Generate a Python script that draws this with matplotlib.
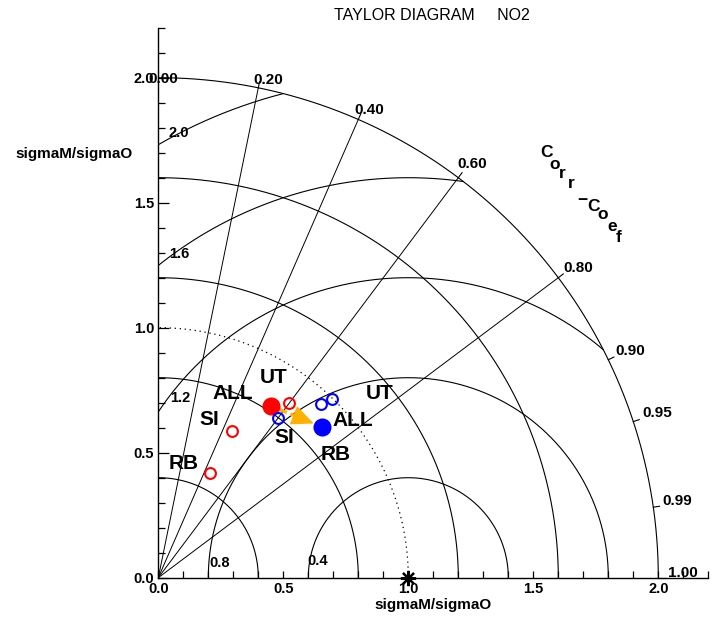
import numpy as np
import matplotlib.pyplot as plt

plt.rcParams['font.family'] = ['Liberation Sans', 'DejaVu Sans']

# normalised standard deviation and correlation for each sub-region
cases = ['ALL', 'UT', 'SI', 'RB']
ratio_red = [0.821, 0.874, 0.657, 0.466]
corr_red = [0.548, 0.599, 0.447, 0.444]
ratio_blue = [0.890, 0.997, 0.799, 0.952]
corr_blue = [0.735, 0.698, 0.598, 0.684]

corr_ticks = [0.0, 0.2, 0.4, 0.6, 0.8, 0.9, 0.95, 0.99, 1.0]
corr_rays = [0.2, 0.4, 0.6, 0.8]
std_levels = [0.4, 0.8, 1.2, 1.6, 2.0]
rms_levels = [0.4, 0.8, 1.2, 1.6, 2.0]

# where the case names sit relative to their marker (pixels)
red_offsets = [(-38, 13), (-16, 25), (-22, 11), (-26, 10)]
blue_offsets = [(31, 6), (47, 6), (7, -20), (15, -50)]
# correlation label offsets from the outer arc (pixels)
corr_offsets = [(-10, -5), (-5, 4), (-4, 5), (-1, 10), (5, 6), (7, 5), (9, 5), (9, 2), (10, 1)]
# centre of the rms labels
rms_label_xy = [(0.639, 0.067), (0.244, 0.059), (0.087, 0.719), (0.083, 1.295), (0.083, 1.779)]
# "Corr-Coef" glyphs and their baseline points (pixels from the figure's top-left)
cc_letters = ['C', 'o', 'r', 'r', '\u2212', 'C', 'o', 'e', 'f']
cc_points = [(546.7, 156.7), (554.3, 168.6), (562.7, 177.6), (571, 187.6), (582, 205.5),
             (594, 211), (602.7, 219.3), (611.7, 231), (619, 241.7)]

RMAX = 2.0
X0_PX, Y0_PX, PX_PER_UNIT = 158.3, 577.7, 250.0


def to_xy(ratio, cc):
    ratio = np.asarray(ratio, dtype=float)
    cc = np.asarray(cc, dtype=float)
    return ratio * cc, ratio * np.sqrt(1.0 - cc ** 2)


fig = plt.figure(figsize=(7.12, 6.2), dpi=100)
ax = fig.add_axes([X0_PX / 712, (620 - Y0_PX) / 620, 550 / 712, 550 / 620])
ax.set_xlim(0, 2.2)
ax.set_ylim(0, 2.2)
for s in ['top', 'right']:
    ax.spines[s].set_visible(False)
for s in ['left', 'bottom']:
    ax.spines[s].set_linewidth(1.0)

major = np.arange(0, 2.21, 0.5)
ax.set_xticks(major)
ax.set_yticks(major)
ax.set_xticks(np.arange(0, 2.21, 0.1), minor=True)
ax.set_yticks(np.arange(0, 2.21, 0.1), minor=True)
ax.set_xticklabels(['%.1f' % v for v in major])
ax.set_yticklabels(['%.1f' % v for v in major])
ax.tick_params(which='both', direction='in', width=0.9, labelsize=10.5, pad=3)
ax.tick_params(axis='x', which='both', length=5)
ax.tick_params(axis='y', which='major', length=8)
ax.tick_params(axis='y', which='minor', length=5)
for lab in ax.get_xticklabels() + ax.get_yticklabels():
    lab.set_fontweight('bold')

t = np.linspace(0, np.pi / 2, 400)
# standard deviation arcs around the origin
for r in std_levels:
    ax.plot(r * np.cos(t), r * np.sin(t), color='black', lw=0.8)
ax.plot(np.cos(t), np.sin(t), color='black', lw=0.9, linestyle=(0, (1, 3)))

# centred rms difference arcs around the reference point
tt = np.linspace(0, np.pi, 3000)
for r in rms_levels:
    x = 1.0 + r * np.cos(tt)
    y = r * np.sin(tt)
    keep = (x >= 0) & (x ** 2 + y ** 2 <= RMAX ** 2 + 1e-9)
    x = np.where(keep, x, np.nan)
    ax.plot(x, y, color='black', lw=0.8)
for r, (lx, ly) in zip(rms_levels, rms_label_xy):
    ax.text(lx, ly, '%.1f' % r, fontsize=10.5, fontweight='bold', ha='center', va='center')

# correlation rays
for c in corr_rays:
    a = np.arccos(c)
    ax.plot([0, RMAX * np.cos(a)], [0, RMAX * np.sin(a)], color='black', lw=0.7)

# correlation ticks and labels on the outer arc
for c, (dx, dy) in zip(corr_ticks, corr_offsets):
    a = np.arccos(c)
    ax.plot([RMAX * np.cos(a), 2.025 * np.cos(a)], [RMAX * np.sin(a), 2.025 * np.sin(a)],
            color='black', lw=0.8, clip_on=False)
    ax.annotate('%.2f' % c, (RMAX * np.cos(a), RMAX * np.sin(a)), xytext=(dx, dy),
                textcoords='offset pixels', fontsize=11, fontweight='bold',
                ha='left', va='baseline', annotation_clip=False)

# "Corr-Coef" stepping down along the outer edge
for ch, (px, py) in zip(cc_letters, cc_points):
    ax.text((px - X0_PX) / PX_PER_UNIT, (Y0_PX - py) / PX_PER_UNIT, ch, fontsize=12.5,
            fontweight='bold', ha='center', va='baseline')

# reference point
ax.plot([1.0], [0.0], marker=(8, 2, 0), color='black', markersize=11, mew=1.6, clip_on=False, zorder=5)

# model points
xr, yr = to_xy(ratio_red, corr_red)
xb, yb = to_xy(ratio_blue, corr_blue)
for x, y, col, offs in [(xr, yr, 'red', red_offsets), (xb, yb, 'blue', blue_offsets)]:
    ax.plot(x[0], y[0], 'o', color=col, markersize=12, zorder=6)
    ax.plot(x[1:], y[1:], 'o', linestyle='none', markerfacecolor='none', markeredgecolor=col,
            markersize=7.8, mew=1.5, zorder=6)
    for name, px, py, (dx, dy) in zip(cases, x, y, offs):
        ax.annotate(name, (px, py), xytext=(dx, dy), textcoords='offset pixels', fontsize=15,
                    fontweight='bold', ha='center', va='center', zorder=7)

# dashed arrow from the red ALL point towards the blue ALL point
d = np.array([xb[0] - xr[0], yb[0] - yr[0]])
start = np.array([xr[0], yr[0]])
p0 = start + 0.17 * d
base = start + 0.55 * d
tip = start + 0.84 * d
ax.plot([p0[0], base[0]], [p0[1], base[1]], color='#FFB000', lw=2.3, linestyle=(0, (2.5, 1.2)),
        dash_capstyle='butt', zorder=5)
ax.annotate('', xy=tip, xytext=base,
            arrowprops=dict(arrowstyle='-|>,head_length=1.0,head_width=0.45', color='#FFB000',
                            lw=1, shrinkA=0, shrinkB=0, mutation_scale=14), zorder=5)

ax.text(-0.101, 1.695, 'sigmaM/sigmaO', fontsize=11, fontweight='bold', ha='right', va='center')
ax.text(1.1, -0.109, 'sigmaM/sigmaO', fontsize=11, fontweight='bold', ha='center', va='center')
fig.text(432 / 712, 1 - 15 / 620, 'TAYLOR DIAGRAM     NO2', fontsize=11.5, ha='center', va='center')

fig.savefig('out.png', dpi=100)
